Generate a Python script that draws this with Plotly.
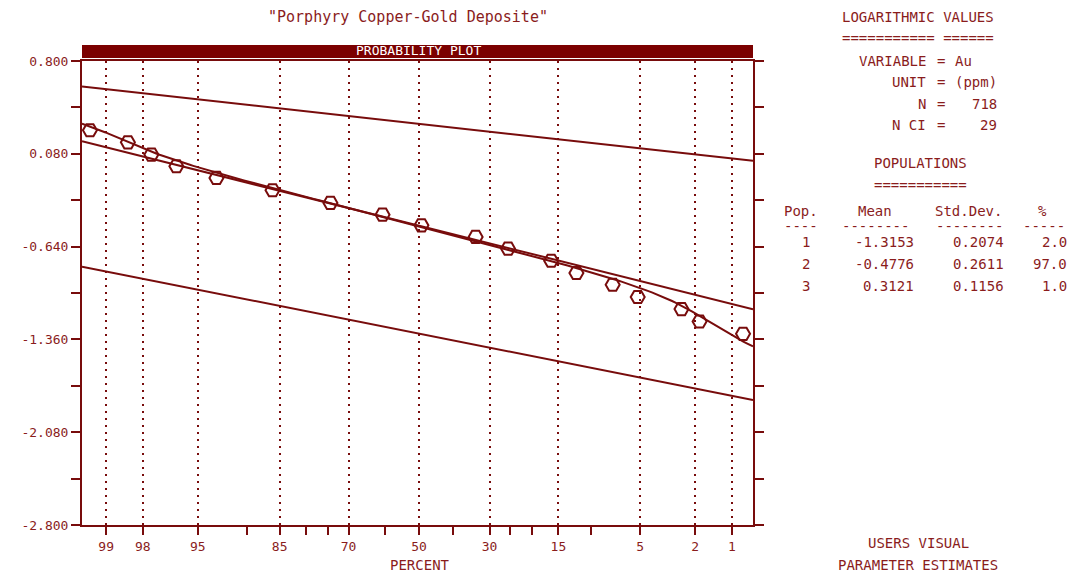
import plotly.graph_objects as go
from statistics import NormalDist

ND = NormalDist()

# Class-boundary points: cumulative percent (less than) and log10 Au (ppm)
cum_pct = [99.28, 98.48, 97.67, 96.44, 93.40, 86.2, 74.5, 60.7, 49.3,
           33.7, 25.4, 16.3, 12.1, 7.5, 5.2, 2.55, 1.85, 0.80]
log_au = [0.263, 0.169, 0.074, -0.017, -0.107, -0.203, -0.301, -0.392, -0.475,
          -0.565, -0.656, -0.750, -0.845, -0.936, -1.031, -1.125, -1.221, -1.317]

# Partitioned populations (users visual parameter estimates)
pop_id = [1, 2, 3]
pop_mean = [-1.3153, -0.4776, 0.3121]
pop_sd = [0.2074, 0.2611, 0.1156]
pop_pct = [2.0, 97.0, 1.0]

# Axis ticks
pct_labeled = [99, 98, 95, 85, 70, 50, 30, 15, 5, 2, 1]
pct_minor = [90, 80, 75, 60, 40, 25, 20, 10]
y_labeled = [0.8, 0.08, -0.64, -1.36, -2.08, -2.8]
y_minor = [0.44, -0.28, -1.0, -1.72, -2.44]

# Summary panel values
variable = "Au"
unit = "(ppm)"
n_samples = 718
n_ci = 29

X_MIN, X_MAX = -2.506, 2.483
Y_MIN, Y_MAX = -2.8, 0.8

MAROON = "#780c0c"
TXT = "#8a1c1c"
FONT = "DejaVu Sans Mono"

W, H = 1074, 573
L, R, T, B = 82, 321, 61, 48


def pos(p):
    """Probability-scale position: high cumulative percent on the left."""
    return ND.inv_cdf(1 - p / 100.0)


def mixture_value(x):
    """Value at which the population mixture reaches the cumulative level of x."""
    target = ND.cdf(-x)
    lo, hi = -6.0, 4.0
    for _ in range(60):
        mid = 0.5 * (lo + hi)
        c = sum(f / 100.0 * ND.cdf((mid - m) / s)
                for m, s, f in zip(pop_mean, pop_sd, pop_pct))
        if c < target:
            lo = mid
        else:
            hi = mid
    return 0.5 * (lo + hi)


fig = go.Figure()

# Straight lines for each population
for m, s in zip(pop_mean, pop_sd):
    fig.add_trace(go.Scatter(
        x=[X_MIN, X_MAX], y=[m - s * X_MIN, m - s * X_MAX],
        mode="lines", line=dict(color=MAROON, width=2),
        hoverinfo="skip", showlegend=False))

# Mixture curve
n_curve = 200
xs = [X_MIN + (X_MAX - X_MIN) * i / (n_curve - 1) for i in range(n_curve)]
fig.add_trace(go.Scatter(
    x=xs, y=[mixture_value(v) for v in xs],
    mode="lines", line=dict(color=MAROON, width=2),
    hoverinfo="skip", showlegend=False))

# Observed points
fig.add_trace(go.Scatter(
    x=[pos(p) for p in cum_pct], y=log_au, mode="markers",
    marker=dict(symbol="hexagon2-open", size=14,
                line=dict(color=MAROON, width=2), color=MAROON),
    showlegend=False))


def px_x(px):
    return (px - L) / (W - L - R)


def px_y(py):
    return (H - B - py) / (H - T - B)


annotations = []


def txt(px, py, s, anchor="center", size=14, color=TXT):
    annotations.append(dict(
        x=px_x(px), y=px_y(py), xref="paper", yref="paper", text=s,
        showarrow=False, xanchor=anchor, yanchor="middle",
        font=dict(family=FONT, size=size, color=color)))


txt(408, 17, '"Porphyry Copper-Gold Deposite"', size=15)
txt(418, 51, "PROBABILITY PLOT", color="white", size=13)
txt(420, 565, "PERCENT")

txt(918, 17, "LOGARITHMIC VALUES")
txt(918, 38, "=========== ======")
rows = [("VARIABLE", variable, "left"), ("UNIT", unit, "left"),
        ("N", str(n_samples), "right"), ("N CI", str(n_ci), "right")]
for i, (lab, val, al) in enumerate(rows):
    yy = 61 + i * 21.3
    txt(928, yy, lab, anchor="right")
    txt(941, yy, "=")
    if al == "left":
        txt(953, yy, val, anchor="left")
    else:
        txt(999, yy, val, anchor="right")

txt(920, 163, "POPULATIONS")
txt(920, 185, "===========")
txt(801, 211, "Pop.")
txt(875, 211, "Mean")
txt(968, 211, "Std.Dev.")
txt(1042, 211, "%")
txt(801, 226, "----")
txt(875, 226, "--------")
txt(970, 226, "--------")
txt(1044, 226, "-----")
for i, (k, m, s, f) in enumerate(zip(pop_id, pop_mean, pop_sd, pop_pct)):
    yy = 242 + i * 22
    txt(806, yy, str(k))
    txt(916, yy, f"{m:.4f}", anchor="right")
    txt(1006, yy, f"{s:.4f}", anchor="right")
    txt(1069, yy, f"{f:.1f}", anchor="right")

txt(918, 543, "USERS VISUAL")
txt(918, 565, "PARAMETER ESTIMATES")

fig.update_layout(
    width=W, height=H, autosize=False,
    margin=dict(l=L, r=R, t=T, b=B),
    paper_bgcolor="white", plot_bgcolor="white",
    annotations=annotations,
    shapes=[dict(type="rect", xref="paper", yref="paper",
                 x0=0, x1=1, y0=px_y(58), y1=px_y(45),
                 fillcolor="#7b0000", line=dict(width=0))],
    xaxis=dict(
        range=[X_MIN, X_MAX],
        tickmode="array",
        tickvals=[pos(p) for p in pct_labeled],
        ticktext=[str(p) for p in pct_labeled],
        ticks="outside", ticklen=8, tickwidth=2, tickcolor=MAROON,
        showline=True, linecolor=MAROON, linewidth=2, mirror=True,
        showgrid=True, gridcolor=MAROON, gridwidth=1.5, griddash="1.5px,5.5px",
        zeroline=False,
        tickfont=dict(family=FONT, size=13, color=TXT),
        minor=dict(tickmode="array", tickvals=[pos(p) for p in pct_minor],
                   ticks="outside", ticklen=8, tickwidth=2, tickcolor=MAROON,
                   showgrid=False),
    ),
    yaxis=dict(
        range=[Y_MIN, Y_MAX],
        tickmode="array",
        tickvals=y_labeled,
        ticktext=[f"{v:.3f}" for v in y_labeled],
        ticks="outside", ticklen=9, tickwidth=2, tickcolor=MAROON,
        showline=True, linecolor=MAROON, linewidth=2, mirror="allticks",
        showgrid=False, zeroline=False,
        tickfont=dict(family=FONT, size=13, color=TXT),
        minor=dict(tickmode="array", tickvals=y_minor,
                   ticks="outside", ticklen=9, tickwidth=2, tickcolor=MAROON,
                   showgrid=False),
    ),
)

fig.write_html("out.html")
